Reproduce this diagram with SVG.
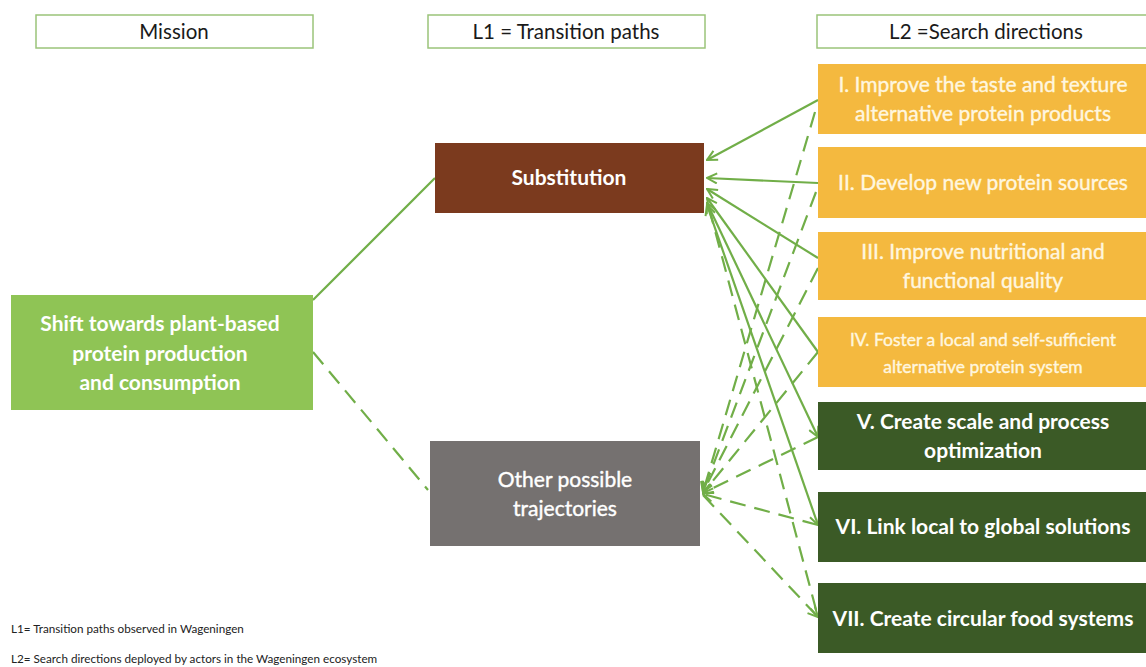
<svg xmlns="http://www.w3.org/2000/svg" width="1146" height="667" viewBox="0 0 1146 667">
<defs>
<style>
.hdr{fill:#ffffff;stroke:#9bc47a;stroke-width:1.5}
.ht{font-family:Lato,"Open Sans","Liberation Sans",sans-serif;font-size:20.5px;fill:#1a1a1a;text-anchor:middle}
.bt{font-family:Lato,"Open Sans","Liberation Sans",sans-serif;font-size:21px;fill:#ffffff;text-anchor:middle}
.bb{font-weight:bold}
.ot{fill:#fff6df;stroke:#fff6df;stroke-width:0.4}
.gt{stroke:#ffffff;stroke-width:0.4}
.orange{fill:#f4b93f}
.dark{fill:#3b5a26}
.ln{stroke:#71ae48;stroke-width:2.2;fill:none}
.da{stroke-dasharray:16 9}
.fn{font-family:Lato,"Liberation Sans",sans-serif;font-size:11.7px;fill:#222}
</style>
<marker id="ah" viewBox="0 0 12 12" refX="11" refY="6" markerWidth="12" markerHeight="12" markerUnits="userSpaceOnUse" orient="auto-start-reverse">
<path d="M1,1 L11,6 L1,11" fill="none" stroke="#71ae48" stroke-width="2"/>
</marker>
</defs>
<rect width="1146" height="667" fill="#ffffff"/>

<g id="hdr-mission"><rect class="hdr" x="36" y="15" width="277" height="33"/><text class="ht" x="174" y="39">Mission</text></g>
<g id="hdr-l1"><rect class="hdr" x="428" y="15" width="277" height="33"/><text class="ht" x="566" y="39">L1 = Transition paths</text></g>
<g id="hdr-l2"><rect class="hdr" x="817" y="15" width="340" height="33"/><text class="ht" x="986" y="39">L2 =Search directions</text></g>

<g id="connectors">
<line class="ln" x1="313" y1="300" x2="435" y2="178"/>
<line class="ln da" x1="313" y1="352" x2="428" y2="490"/>
<line class="ln" x1="818" y1="100" x2="707" y2="160" marker-end="url(#ah)"/>
<line class="ln" x1="818" y1="183" x2="707" y2="178" marker-end="url(#ah)"/>
<line class="ln" x1="818" y1="258" x2="707" y2="189" marker-end="url(#ah)"/>
<line class="ln" x1="818" y1="352" x2="707" y2="198" marker-end="url(#ah)"/>
<line class="ln" x1="818" y1="437" x2="707" y2="203" marker-end="url(#ah)" marker-start="url(#ah)"/>
<line class="ln" x1="818" y1="525" x2="707" y2="205" marker-end="url(#ah)" marker-start="url(#ah)"/>
<line class="ln da" x1="709" y1="208" x2="818" y2="617" marker-end="url(#ah)"/>
<line class="ln da" x1="815" y1="112" x2="703" y2="492" marker-end="url(#ah)"/>
<line class="ln da" x1="816" y1="192" x2="703" y2="492" marker-end="url(#ah)"/>
<line class="ln da" x1="818" y1="268" x2="703" y2="492" marker-end="url(#ah)"/>
<line class="ln da" x1="818" y1="352" x2="703" y2="493" marker-end="url(#ah)"/>
<line class="ln da" x1="818" y1="437" x2="703" y2="493" marker-end="url(#ah)"/>
<line class="ln da" x1="818" y1="525" x2="703" y2="494" marker-end="url(#ah)"/>
<line class="ln da" x1="703" y1="495" x2="818" y2="617" marker-end="url(#ah)"/>
</g>

<g id="mission"><rect x="11" y="295" width="302" height="115" fill="#8fc455"/>
<text class="bt bb" x="160" y="331">Shift towards plant-based</text>
<text class="bt bb" x="160" y="361">protein production</text>
<text class="bt bb" x="160" y="390">and consumption</text></g>

<g id="substitution"><rect x="435" y="143" width="269" height="70" fill="#7b3a1e"/>
<text class="bt bb" x="569" y="185">Substitution</text></g>

<g id="other"><rect x="430" y="441" width="270" height="105" fill="#757170"/>
<text class="bt gt" x="565" y="487">Other possible</text>
<text class="bt gt" x="565" y="516">trajectories</text></g>

<g id="l2-1"><rect class="orange" x="818" y="64" width="340" height="70"/>
<text class="bt ot" x="983" y="92">I. Improve the taste and texture</text>
<text class="bt ot" x="983" y="121">alternative protein products</text></g>
<g id="l2-2"><rect class="orange" x="818" y="147" width="340" height="71"/>
<text class="bt ot" x="983" y="190">II. Develop new protein sources</text></g>
<g id="l2-3"><rect class="orange" x="818" y="232" width="340" height="68"/>
<text class="bt ot" x="983" y="259">III. Improve nutritional and</text>
<text class="bt ot" x="983" y="288">functional quality</text></g>
<g id="l2-4"><rect class="orange" x="818" y="317" width="340" height="70"/>
<text class="bt ot" x="983" y="346" style="font-size:17.5px">IV. Foster a local and self-sufficient</text>
<text class="bt ot" x="983" y="373" style="font-size:17.5px">alternative protein system</text></g>
<g id="l2-5"><rect class="dark" x="818" y="402" width="340" height="68"/>
<text class="bt bb" x="983" y="429">V. Create scale and process</text>
<text class="bt bb" x="983" y="458">optimization</text></g>
<g id="l2-6"><rect class="dark" x="818" y="492" width="340" height="70"/>
<text class="bt bb" x="983" y="534">VI. Link local to global solutions</text></g>
<g id="l2-7"><rect class="dark" x="818" y="583" width="340" height="70"/>
<text class="bt bb" x="983" y="626">VII. Create circular food systems</text></g>

<text class="fn" x="11" y="633">L1= Transition paths observed in Wageningen</text>
<text class="fn" x="11" y="663">L2= Search directions deployed by actors in the Wageningen ecosystem</text>
</svg>
